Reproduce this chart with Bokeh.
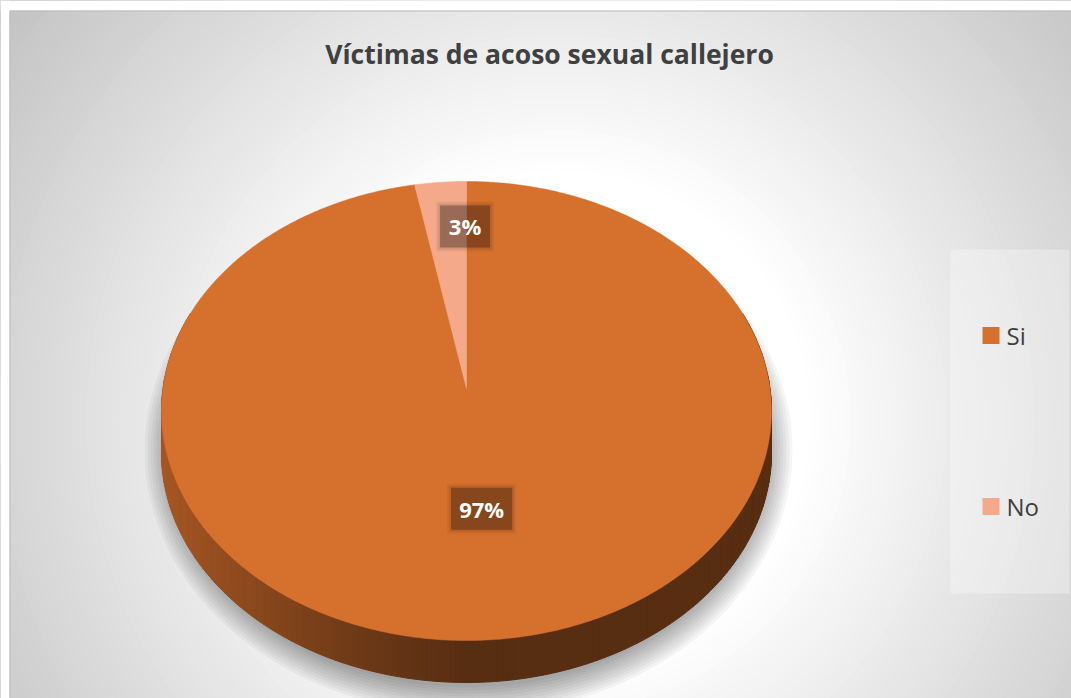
import numpy as np
from bokeh.plotting import figure
from bokeh.models import Range1d
from bokeh.core.properties import value
from bokeh.embed import file_html
from bokeh.resources import INLINE

# ---- data ----
categories = ["Si", "No"]
values = [97, 3]
colors = ["#D6702D", "#F3A98A"]
title_text = "Víctimas de acoso sexual callejero"

# ---- layout / style constants ----
W, H = 1071, 698
CX, CY = 466.0, 388.0      # projected pie centre (apex)
A, B = 303.5, 227.3        # radii
PERSP = 0.098              # perspective factor
DEPTH = 42.0
FONT = value("Open Sans")
label_r = [0.505, 0.77]
label_dx = [0, 19]


def proj(theta, f=1.0):
    c = np.cos(theta)
    s = np.sin(theta)
    d = 1.0 + PERSP * f * c
    return CX + A * f * s / d, CY - B * f * c / d


def hexcol(rgb):
    return "#%02x%02x%02x" % tuple(int(max(0, min(255, round(v)))) for v in rgb)


def torgb(h):
    h = h.lstrip("#")
    return [int(h[i:i + 2], 16) for i in (0, 2, 4)]


p = figure(width=W, height=H, x_range=Range1d(0, W), y_range=Range1d(H, 0),
           output_backend="svg", toolbar_location=None, min_border=0)
p.axis.visible = False
p.grid.visible = False
p.outline_line_color = None
p.background_fill_color = "white"
p.border_fill_color = "white"

# ---- background radial gradient ----
radii = np.arange(730, 240, -8)
gx, gy = 560, 420
greys = [hexcol([255 - 0.136 * max(0, r - 250)] * 3) for r in radii]
p.circle(x=[gx] * len(radii), y=[gy] * len(radii), radius=radii,
         fill_color=greys, line_color=None)

# ---- soft shadow ----
for k in range(0, 30, 3):
    p.ellipse(x=[468], y=[450], width=[2 * (324 - k)], height=[2 * (264 - k)],
              fill_color="black", fill_alpha=0.04, line_color=None)

# ---- pie ----
total = float(sum(values))
fracs = [v / total for v in values]
starts = np.cumsum([0] + fracs[:-1]) * 2 * np.pi
ends = np.cumsum(fracs) * 2 * np.pi

# side strips (front half)
side_xs, side_ys, side_cols = [], [], []
steps = np.linspace(np.deg2rad(70), np.deg2rad(290), 221)
for t1, t2 in zip(steps[:-1], steps[1:]):
    tm = 0.5 * (t1 + t2)
    idx = 0
    for i in range(len(values)):
        if starts[i] <= tm % (2 * np.pi) < ends[i]:
            idx = i
    x1, y1 = proj(t1)
    x2, y2 = proj(t2)
    xm, _ = proj(tm)
    rel = max(0.0, -(xm - CX) / A)
    f = 0.41 + 0.36 * rel ** 1.2
    base = torgb(colors[idx])
    side_xs.append([x1, x2, x2, x1])
    side_ys.append([y1, y2, y2 + DEPTH, y1 + DEPTH])
    side_cols.append(hexcol([c * f for c in base]))
p.patches(side_xs, side_ys, fill_color=side_cols, line_color=side_cols, line_width=1)

# top face
top_xs, top_ys = [], []
for s0, e0 in zip(starts, ends):
    n = max(4, int(np.degrees(e0 - s0) * 2))
    th = np.linspace(s0, e0, n)
    ax, ay = proj(th)
    top_xs.append([CX] + list(ax))
    top_ys.append([CY] + list(ay))
p.patches(top_xs, top_ys, fill_color=colors, line_color=colors, line_width=0.5)

# ---- data labels ----
for i, v in enumerate(values):
    mid = 0.5 * (starts[i] + ends[i])
    lx, ly = proj(mid, label_r[i])
    lx += label_dx[i]
    txt = "%d%%" % round(100 * v / total)
    bw = 11 * len(txt) + 28
    bh = 42
    for grow, al in [(8, 0.05), (4, 0.08), (0, 0.28)]:
        p.rect(x=[lx], y=[ly], width=[bw + grow], height=[bh + grow],
               fill_color="black", fill_alpha=al, line_color=None)
    p.text(x=[lx], y=[ly], text=[txt], text_font=FONT, text_font_style="bold",
           text_font_size="22px", text_color="white", text_align="center",
           text_baseline="middle")

# ---- title ----
p.text(x=[549], y=[53], text=[title_text], text_font=FONT, text_font_style="bold",
       text_font_size="26.5px", text_color="#404040", text_align="center",
       text_baseline="middle")

# ---- legend ----
p.quad(left=[950], right=[1069], top=[249], bottom=[593], fill_color="white",
       fill_alpha=0.3, line_color=None)
leg_y = [335 + 171 * i for i in range(len(categories))]
p.rect(x=[990.5] * len(categories), y=leg_y, width=17, height=17,
       fill_color=colors, line_color=None)
p.text(x=[1006] * len(categories), y=leg_y, text=categories, text_font=FONT,
       text_font_size="24px", text_color="#404040", text_align="left",
       text_baseline="middle")

# ---- white page margin & frame edge ----
p.quad(left=[0, 0], right=[9, W], top=[0, 0], bottom=[H, 10],
       fill_color="white", line_color=None)
p.line(x=[9.5, 9.5, W], y=[H, 10.5, 10.5], line_color="#bdbdbd", line_width=1)

open("out.html", "w").write(file_html(p, INLINE))
